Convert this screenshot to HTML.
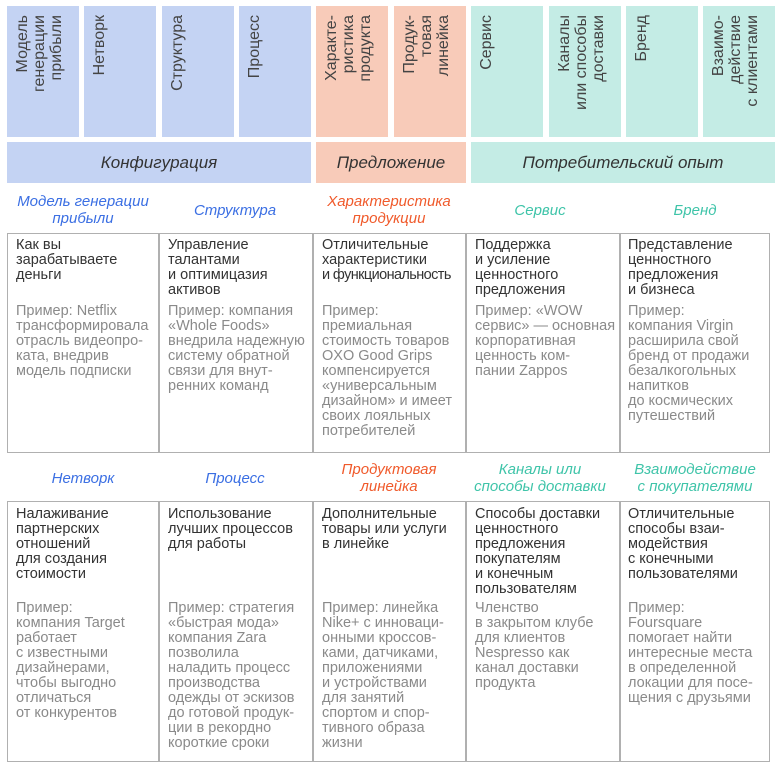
<!DOCTYPE html>
<html><head><meta charset="utf-8"><style>
body{margin:0;width:783px;height:768px;background:#fff;position:relative;overflow:hidden;font-family:"Liberation Sans","DejaVu Sans",sans-serif}
.t{position:absolute;top:6px;height:131px;width:72px}
.t span{position:absolute;left:0;top:0;width:131px;height:72px;transform-origin:0 0;transform:translate(0,131px) rotate(-90deg);box-sizing:border-box;padding:7px 9px 0 0;text-align:right;font-size:16px;line-height:17px;color:#444;white-space:nowrap}
.b{background:#c4d3f3}.o{background:#f8cbb9}.g{background:#c4ece5}
.bar{position:absolute;top:142px;height:41px;font-style:italic;font-size:17px;color:#333;text-align:center;line-height:41px}
.lab{position:absolute;width:152px;text-align:center;font-style:italic;font-size:15px;line-height:17px;display:flex;align-items:center;justify-content:center;height:40px}
.bl{color:#3b6fe3}.or{color:#f05a2b}.gr{color:#3fc4a9}
.tbl{position:absolute;left:7px;width:763px;border:1.5px solid #b0b0b0;box-sizing:border-box}
.vl{position:absolute;width:1.5px;background:#b0b0b0}
.c{position:absolute;font-size:14.5px;line-height:15px;white-space:nowrap}
.h{color:#333}.e{color:#8a8a8a}
</style></head><body>
<div class="t b" style="left:7px"><span>Модель<br>генерации<br>прибыли</span></div>
<div class="t b" style="left:84px"><span>Нетворк</span></div>
<div class="t b" style="left:162px"><span>Структура</span></div>
<div class="t b" style="left:239px"><span>Процесс</span></div>
<div class="t o" style="left:316px"><span>Характе-<br>ристика<br>продукта</span></div>
<div class="t o" style="left:394px"><span>Продук-<br>товая<br>линейка</span></div>
<div class="t g" style="left:471px"><span>Сервис</span></div>
<div class="t g" style="left:549px"><span>Каналы<br>или способы<br>доставки</span></div>
<div class="t g" style="left:626px"><span>Бренд</span></div>
<div class="t g" style="left:703px"><span>Взаимо-<br>действие<br>с клиентами</span></div>

<div class="bar b" style="left:7px;width:304px">Конфигурация</div>
<div class="bar o" style="left:316px;width:150px">Предложение</div>
<div class="bar g" style="left:471px;width:304px">Потребительский опыт</div>

<div class="lab bl" style="left:7px;top:190px">Модель генерации<br>прибыли</div>
<div class="lab bl" style="left:159px;top:190px">Структура</div>
<div class="lab or" style="left:313px;top:190px">Характеристика<br>продукции</div>
<div class="lab gr" style="left:464px;top:190px">Сервис</div>
<div class="lab gr" style="left:619px;top:190px">Бренд</div>

<div class="tbl" style="top:233px;height:220px"></div>
<div class="vl" style="left:158px;top:233px;height:220px"></div>
<div class="vl" style="left:312px;top:233px;height:220px"></div>
<div class="vl" style="left:465px;top:233px;height:220px"></div>
<div class="vl" style="left:619px;top:233px;height:220px"></div>

<div class="c h" style="left:16px;top:238px">Как вы<br>зарабатываете<br>деньги</div>
<div class="c e" style="left:16px;top:304px">Пример: Netflix<br>трансформировала<br>отрасль видеопро-<br>ката, внедрив<br>модель подписки</div>
<div class="c h" style="left:168px;top:238px">Управление<br>талантами<br>и оптимицазия<br>активов</div>
<div class="c e" style="left:168px;top:304px">Пример: компания<br>«Whole Foods»<br>внедрила надежную<br>систему обратной<br>связи для внут-<br>ренних команд</div>
<div class="c h" style="left:322px;top:238px">Отличительные<br>характеристики<br><span style="letter-spacing:-0.6px">и функциональность</span></div>
<div class="c e" style="left:322px;top:304px">Пример:<br>премиальная<br>стоимость товаров<br>OXO Good Grips<br>компенсируется<br>«универсальным<br>дизайном» и имеет<br>своих лояльных<br>потребителей</div>
<div class="c h" style="left:475px;top:238px">Поддержка<br>и усиление<br>ценностного<br>предложения</div>
<div class="c e" style="left:475px;top:304px">Пример:  «WOW<br>сервис» — основная<br>корпоративная<br>ценность ком-<br>пании Zappos</div>
<div class="c h" style="left:628px;top:238px">Представление<br>ценностного<br>предложения<br>и бизнеса</div>
<div class="c e" style="left:628px;top:304px">Пример:<br>компания Virgin<br>расширила свой<br>бренд от продажи<br>безалкогольных<br>напитков<br>до космических<br>путешествий</div>

<div class="lab bl" style="left:7px;top:458px">Нетворк</div>
<div class="lab bl" style="left:159px;top:458px">Процесс</div>
<div class="lab or" style="left:313px;top:458px">Продуктовая<br>линейка</div>
<div class="lab gr" style="left:464px;top:458px">Каналы или<br>способы доставки</div>
<div class="lab gr" style="left:619px;top:458px">Взаимодействие<br>с покупателями</div>

<div class="tbl" style="top:501px;height:261px"></div>
<div class="vl" style="left:158px;top:501px;height:261px"></div>
<div class="vl" style="left:312px;top:501px;height:261px"></div>
<div class="vl" style="left:465px;top:501px;height:261px"></div>
<div class="vl" style="left:619px;top:501px;height:261px"></div>

<div class="c h" style="left:16px;top:507px">Налаживание<br>партнерских<br>отношений<br>для создания<br>стоимости</div>
<div class="c e" style="left:16px;top:601px">Пример:<br>компания Target<br>работает<br>с известными<br>дизайнерами,<br>чтобы выгодно<br>отличаться<br>от конкурентов</div>
<div class="c h" style="left:168px;top:507px">Использование<br>лучших процессов<br>для работы</div>
<div class="c e" style="left:168px;top:601px">Пример: стратегия<br>«быстрая мода»<br>компания Zara<br>позволила<br>наладить процесс<br>производства<br>одежды от эскизов<br>до готовой продук-<br>ции в рекордно<br>короткие сроки</div>
<div class="c h" style="left:322px;top:507px">Дополнительные<br>товары или услуги<br>в линейке</div>
<div class="c e" style="left:322px;top:601px">Пример: линейка<br>Nike+ с инноваци-<br>онными кроссов-<br>ками, датчиками,<br>приложениями<br>и устройствами<br>для занятий<br>спортом и спор-<br>тивного образа<br>жизни</div>
<div class="c h" style="left:475px;top:507px">Способы доставки<br>ценностного<br>предложения<br>покупателям<br>и конечным<br>пользователям</div>
<div class="c e" style="left:475px;top:601px">Членство<br>в закрытом клубе<br>для клиентов<br>Nespresso как<br>канал доставки<br>продукта</div>
<div class="c h" style="left:628px;top:507px">Отличительные<br>способы взаи-<br>модействия<br>с конечными<br>пользователями</div>
<div class="c e" style="left:628px;top:601px">Пример:<br>Foursquare<br>помогает найти<br>интересные места<br>в определенной<br>локации для посе-<br>щения с друзьями</div>
</body></html>
